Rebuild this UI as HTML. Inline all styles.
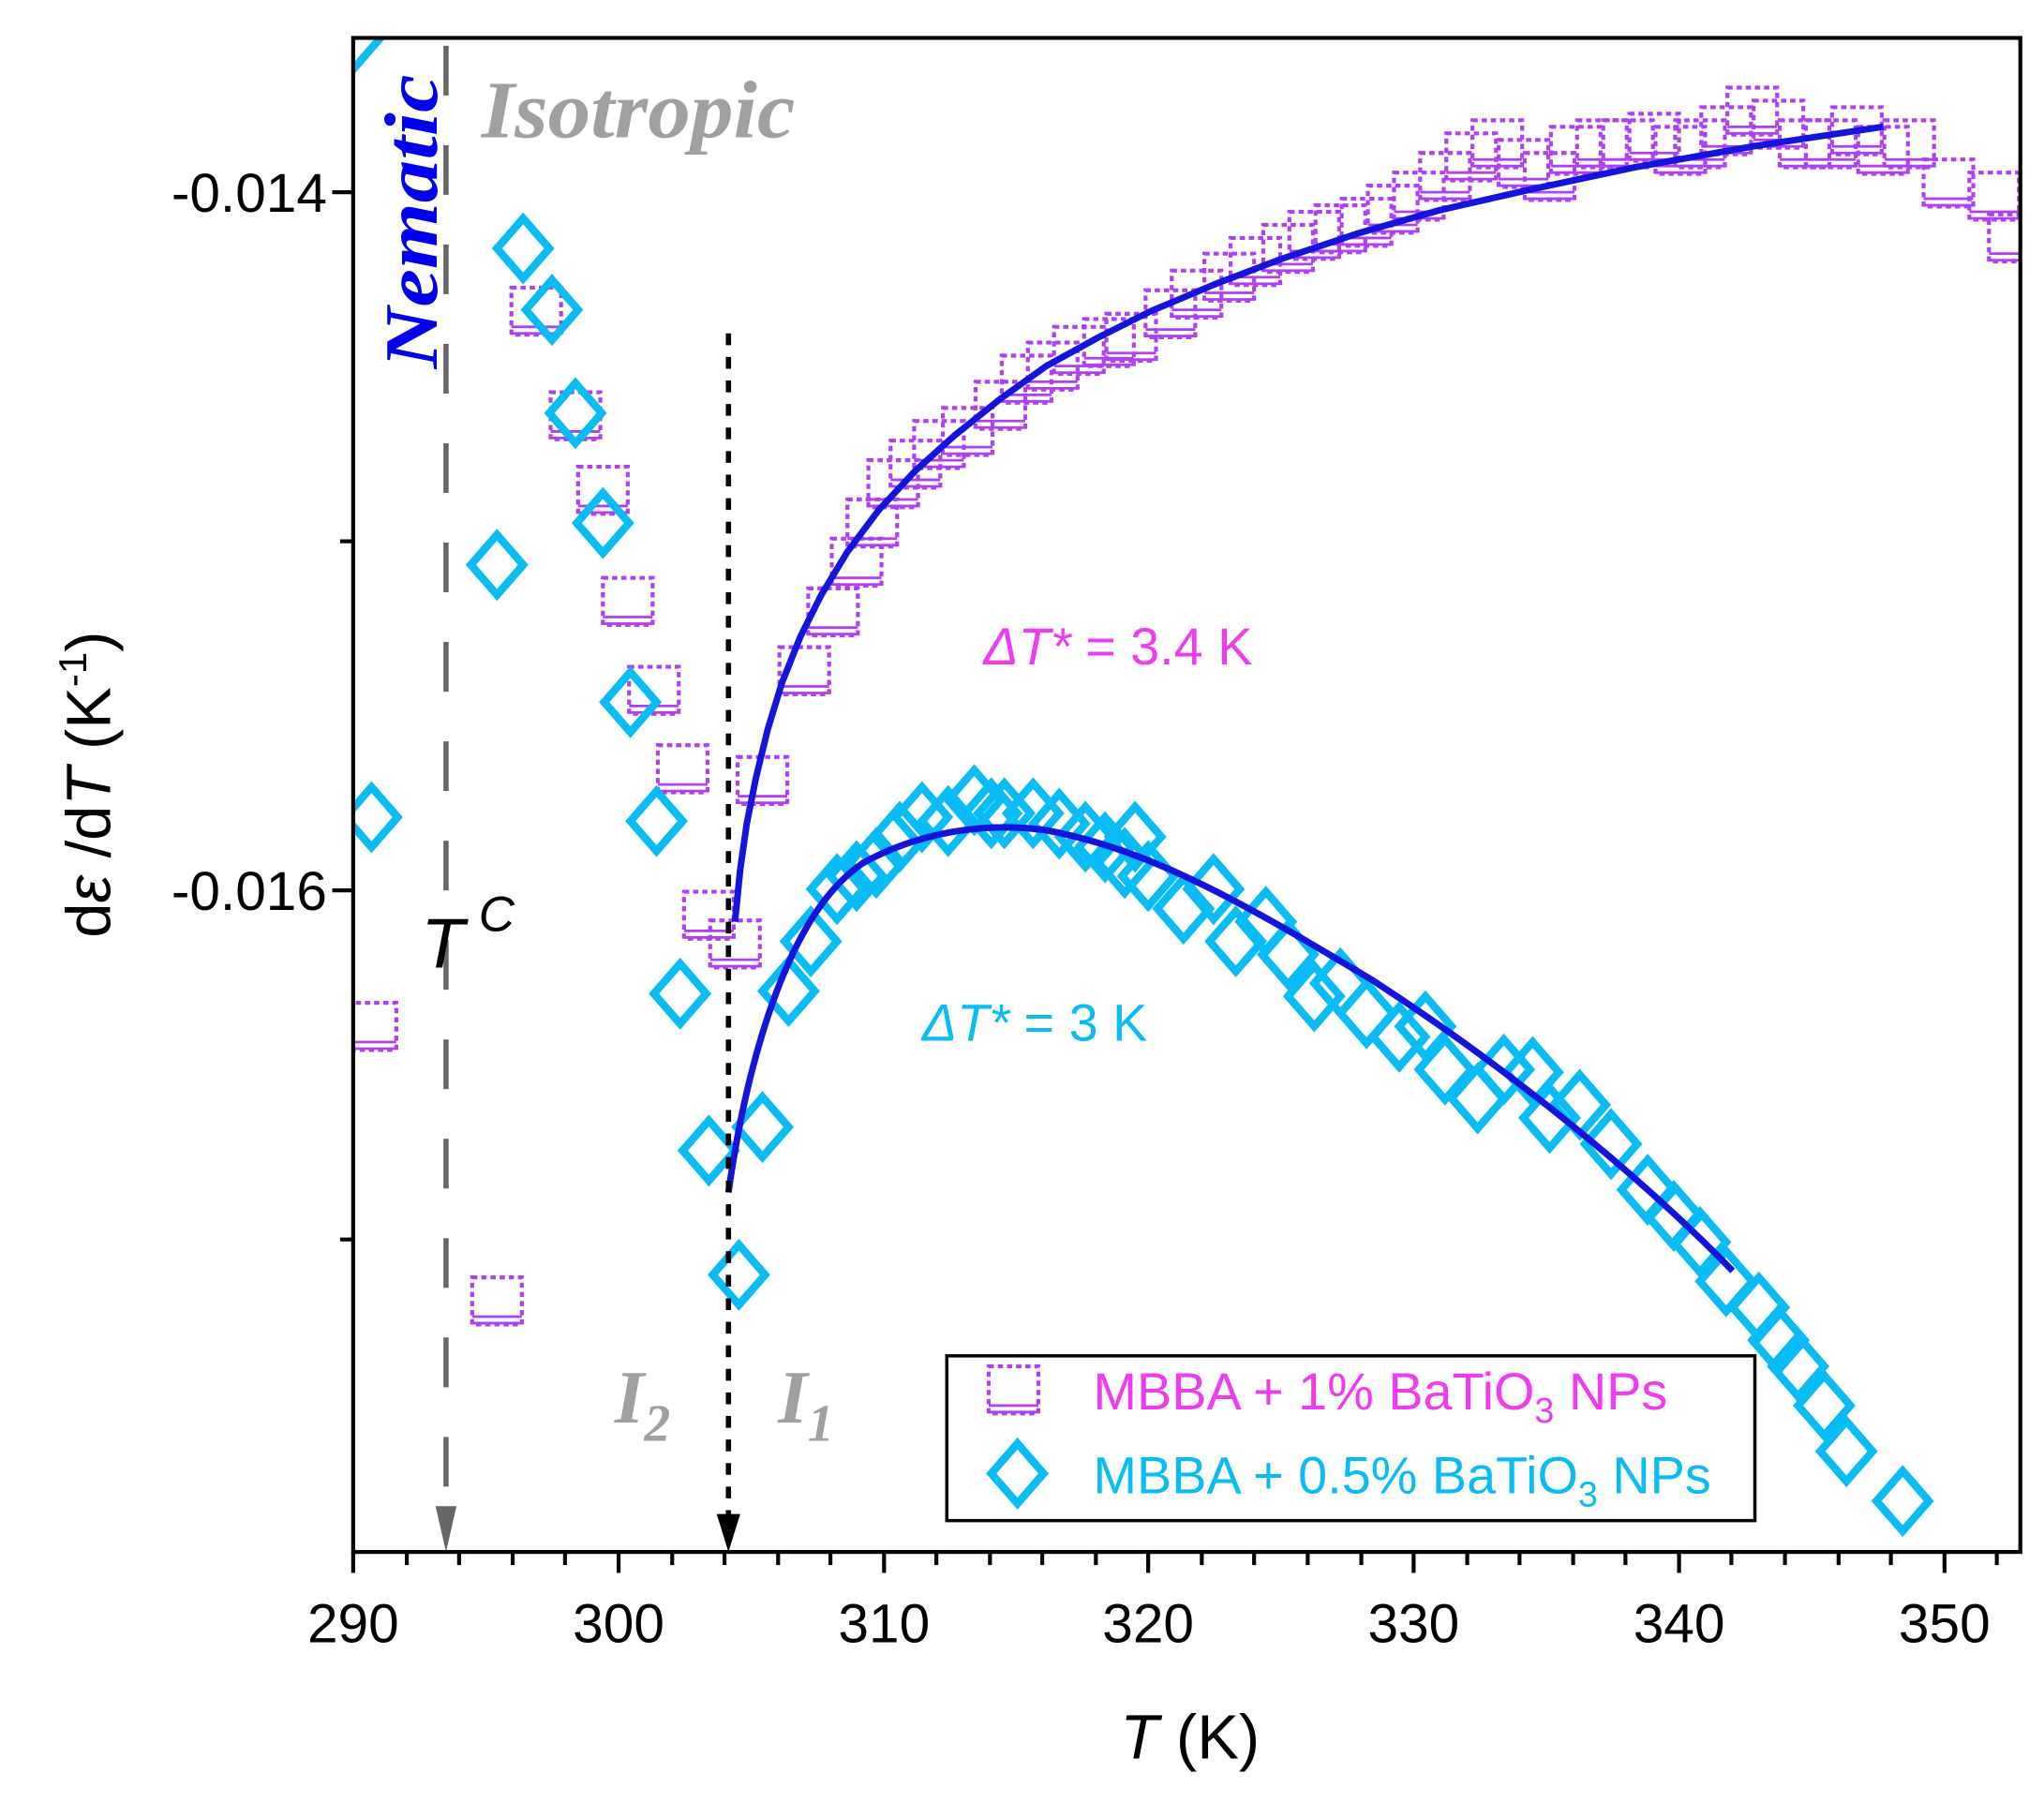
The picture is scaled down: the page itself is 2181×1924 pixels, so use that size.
<!DOCTYPE html>
<html><head><meta charset="utf-8"><style>html,body{margin:0;padding:0;background:#fff}svg{display:block}</style></head><body>
<svg width="2181" height="1924" viewBox="0 0 1563 1379" xmlns="http://www.w3.org/2000/svg" font-family="Liberation Sans, Arial, sans-serif">
<defs>
<g id="sq"><rect x="-19" y="-18" width="38" height="36" fill="none" stroke="#b040f5" stroke-width="3" stroke-dasharray="4 3"/><line x1="-19" y1="12" x2="19" y2="12" stroke="#b040f5" stroke-width="2"/><line x1="-19" y1="17" x2="19" y2="17" stroke="#b040f5" stroke-width="2"/></g>
<path id="dm" d="M0,-23 L20,0 L0,23 L-20,0 Z" fill="none" stroke="#0abcf5" stroke-width="6" stroke-linejoin="miter"/>
<clipPath id="pc"><rect x="270" y="29" width="1275" height="1158"/></clipPath>
</defs>
<rect width="1563" height="1379" fill="#fff"/>
<g clip-path="url(#pc)">
<g>
<use href="#sq" x="284" y="785"/><use href="#sq" x="380" y="995"/><use href="#sq" x="410" y="238"/><use href="#sq" x="440" y="318"/><use href="#sq" x="461" y="375"/><use href="#sq" x="480" y="460"/><use href="#sq" x="500" y="528"/><use href="#sq" x="522" y="588"/><use href="#sq" x="542" y="700"/><use href="#sq" x="562" y="722"/><use href="#sq" x="583" y="597"/><use href="#sq" x="615" y="513"/><use href="#sq" x="637" y="468"/><use href="#sq" x="655" y="430"/><use href="#sq" x="667" y="400"/><use href="#sq" x="683" y="370"/><use href="#sq" x="700" y="355"/><use href="#sq" x="718" y="340"/><use href="#sq" x="740" y="330"/><use href="#sq" x="765" y="310"/><use href="#sq" x="785" y="290"/><use href="#sq" x="805" y="280"/><use href="#sq" x="825" y="268"/><use href="#sq" x="848" y="262"/><use href="#sq" x="865" y="258"/><use href="#sq" x="895" y="240"/><use href="#sq" x="915" y="225"/><use href="#sq" x="940" y="212"/><use href="#sq" x="960" y="200"/><use href="#sq" x="985" y="190"/><use href="#sq" x="1005" y="180"/><use href="#sq" x="1025" y="175"/><use href="#sq" x="1045" y="170"/><use href="#sq" x="1065" y="160"/><use href="#sq" x="1085" y="150"/><use href="#sq" x="1105" y="135"/><use href="#sq" x="1125" y="120"/><use href="#sq" x="1145" y="110"/><use href="#sq" x="1165" y="125"/><use href="#sq" x="1185" y="135"/><use href="#sq" x="1205" y="115"/><use href="#sq" x="1225" y="110"/><use href="#sq" x="1245" y="110"/><use href="#sq" x="1265" y="105"/><use href="#sq" x="1285" y="115"/><use href="#sq" x="1300" y="110"/><use href="#sq" x="1320" y="100"/><use href="#sq" x="1340" y="85"/><use href="#sq" x="1360" y="95"/><use href="#sq" x="1380" y="110"/><use href="#sq" x="1400" y="110"/><use href="#sq" x="1420" y="100"/><use href="#sq" x="1440" y="115"/><use href="#sq" x="1460" y="110"/><use href="#sq" x="1490" y="140"/><use href="#sq" x="1525" y="150"/><use href="#sq" x="1540" y="182"/>
</g>
<g>
<use href="#dm" x="270" y="30"/><use href="#dm" x="284" y="625"/><use href="#dm" x="380" y="432"/><use href="#dm" x="400" y="190"/><use href="#dm" x="422" y="237"/><use href="#dm" x="440" y="316"/><use href="#dm" x="461" y="400"/><use href="#dm" x="482" y="537"/><use href="#dm" x="502" y="628"/><use href="#dm" x="520" y="760"/><use href="#dm" x="542" y="880"/><use href="#dm" x="565" y="975"/><use href="#dm" x="583" y="862"/><use href="#dm" x="603" y="758"/><use href="#dm" x="620" y="720"/><use href="#dm" x="640" y="680"/><use href="#dm" x="655" y="670"/><use href="#dm" x="670" y="660"/><use href="#dm" x="688" y="640"/><use href="#dm" x="705" y="625"/><use href="#dm" x="725" y="628"/><use href="#dm" x="745" y="612"/><use href="#dm" x="758" y="622"/><use href="#dm" x="768" y="622"/><use href="#dm" x="790" y="622"/><use href="#dm" x="810" y="630"/><use href="#dm" x="830" y="640"/><use href="#dm" x="845" y="648"/><use href="#dm" x="860" y="660"/><use href="#dm" x="868" y="640"/><use href="#dm" x="878" y="670"/><use href="#dm" x="905" y="695"/><use href="#dm" x="928" y="680"/><use href="#dm" x="945" y="720"/><use href="#dm" x="968" y="705"/><use href="#dm" x="985" y="730"/><use href="#dm" x="1005" y="762"/><use href="#dm" x="1025" y="752"/><use href="#dm" x="1045" y="775"/><use href="#dm" x="1070" y="793"/><use href="#dm" x="1090" y="785"/><use href="#dm" x="1105" y="818"/><use href="#dm" x="1130" y="840"/><use href="#dm" x="1150" y="818"/><use href="#dm" x="1172" y="820"/><use href="#dm" x="1185" y="855"/><use href="#dm" x="1208" y="845"/><use href="#dm" x="1232" y="875"/><use href="#dm" x="1260" y="910"/><use href="#dm" x="1280" y="930"/><use href="#dm" x="1300" y="950"/><use href="#dm" x="1320" y="980"/><use href="#dm" x="1345" y="1000"/><use href="#dm" x="1360" y="1025"/><use href="#dm" x="1375" y="1045"/><use href="#dm" x="1395" y="1075"/><use href="#dm" x="1412" y="1110"/><use href="#dm" x="1455" y="1148"/>
</g>
<polyline points="562,705 566,665 571,630 578,595 587,558 598,522 612,487 628,455 648,422 672,390 700,360 730,333 765,305 800,280 840,258 880,238 930,217 980,198 1040,178 1100,161 1170,145 1250,128 1340,112 1440,97" fill="none" stroke="#1414dc" stroke-width="5" stroke-linejoin="round"/>
<path d="M557,912 C570,820 600,700 660,660 C700,638 750,628 800,635 C880,650 950,690 1050,750 C1150,815 1250,895 1325,972" fill="none" stroke="#1414dc" stroke-width="5"/>
</g>
<line x1="341" y1="35" x2="341" y2="1165" stroke="#666" stroke-width="4" stroke-dasharray="38 38"/>
<path d="M333,1152 L349,1152 L341,1187 Z" fill="#666"/>
<line x1="557" y1="255" x2="557" y2="1165" stroke="#000" stroke-width="4" stroke-dasharray="9 9"/>
<path d="M548,1158 L566,1158 L557,1187 Z" fill="#000"/>
<rect x="270" y="29" width="1275" height="1158" fill="none" stroke="#000" stroke-width="3"/>
<g stroke="#000" stroke-width="3">
<line x1="270" y1="1187" x2="270" y2="1203"/><line x1="473" y1="1187" x2="473" y2="1203"/><line x1="676" y1="1187" x2="676" y2="1203"/><line x1="878" y1="1187" x2="878" y2="1203"/><line x1="1081" y1="1187" x2="1081" y2="1203"/><line x1="1284" y1="1187" x2="1284" y2="1203"/><line x1="1487" y1="1187" x2="1487" y2="1203"/>
<line x1="311" y1="1187" x2="311" y2="1197"/><line x1="351" y1="1187" x2="351" y2="1197"/><line x1="392" y1="1187" x2="392" y2="1197"/><line x1="432" y1="1187" x2="432" y2="1197"/>
<line x1="514" y1="1187" x2="514" y2="1197"/><line x1="554" y1="1187" x2="554" y2="1197"/><line x1="595" y1="1187" x2="595" y2="1197"/><line x1="635" y1="1187" x2="635" y2="1197"/>
<line x1="716" y1="1187" x2="716" y2="1197"/><line x1="757" y1="1187" x2="757" y2="1197"/><line x1="797" y1="1187" x2="797" y2="1197"/><line x1="838" y1="1187" x2="838" y2="1197"/>
<line x1="919" y1="1187" x2="919" y2="1197"/><line x1="959" y1="1187" x2="959" y2="1197"/><line x1="1000" y1="1187" x2="1000" y2="1197"/><line x1="1041" y1="1187" x2="1041" y2="1197"/>
<line x1="1122" y1="1187" x2="1122" y2="1197"/><line x1="1162" y1="1187" x2="1162" y2="1197"/><line x1="1203" y1="1187" x2="1203" y2="1197"/><line x1="1243" y1="1187" x2="1243" y2="1197"/>
<line x1="1324" y1="1187" x2="1324" y2="1197"/><line x1="1365" y1="1187" x2="1365" y2="1197"/><line x1="1406" y1="1187" x2="1406" y2="1197"/><line x1="1446" y1="1187" x2="1446" y2="1197"/><line x1="1527" y1="1187" x2="1527" y2="1197"/>
<line x1="254" y1="147" x2="270" y2="147"/><line x1="254" y1="681" x2="270" y2="681"/><line x1="260" y1="414" x2="270" y2="414"/><line x1="260" y1="948" x2="270" y2="948"/>
</g>
<g font-size="42" fill="#000" text-anchor="middle">
<text x="270" y="1256">290</text><text x="473" y="1256">300</text><text x="676" y="1256">310</text><text x="878" y="1256">320</text><text x="1081" y="1256">330</text><text x="1284" y="1256">340</text><text x="1487" y="1256">350</text>
</g>
<g font-size="42" fill="#000" text-anchor="end">
<text x="250" y="162">-0.014</text><text x="250" y="696">-0.016</text>
</g>
<text x="910" y="1345" font-size="48" text-anchor="middle"><tspan font-style="italic">T</tspan>    (K)</text>
<text transform="translate(84,600) rotate(-90)" font-size="48" text-anchor="middle">d<tspan font-style="italic">ε</tspan> /d<tspan font-style="italic">T</tspan>   (K<tspan font-size="30" dy="-18">-1</tspan><tspan dy="18">)</tspan></text>
<text transform="translate(334,282) rotate(-90)" font-family="Liberation Serif, serif" font-weight="bold" font-style="italic" font-size="58" fill="#0000ee" textLength="225" lengthAdjust="spacingAndGlyphs">Nematic</text>
<text x="368" y="105" font-family="Liberation Serif, serif" font-weight="bold" font-style="italic" font-size="62" fill="#a0a0a0" textLength="240" lengthAdjust="spacingAndGlyphs">Isotropic</text>
<text x="322" y="740" font-size="54" font-style="italic" fill="#000">T</text><text x="366" y="712" font-size="38" font-style="italic" fill="#000">C</text>
<text x="752" y="508" font-size="40" fill="#f03cf0"><tspan font-style="italic">ΔT*</tspan> = 3.4 K</text>
<text x="705" y="796" font-size="40" fill="#0abcf5"><tspan font-style="italic">ΔT*</tspan> = 3 K</text>
<text x="470" y="1088" font-family="Liberation Serif, serif" font-weight="bold" font-style="italic" font-size="58" fill="#a0a0a0">I<tspan font-size="40" dy="14">2</tspan></text>
<text x="595" y="1088" font-family="Liberation Serif, serif" font-weight="bold" font-style="italic" font-size="58" fill="#a0a0a0">I<tspan font-size="40" dy="14">1</tspan></text>
<rect x="724" y="1037" width="618" height="126" fill="#fff" stroke="#000" stroke-width="2.5"/>
<use href="#sq" x="775" y="1063"/>
<use href="#dm" x="778" y="1127"/>
<text x="836" y="1078" font-size="40" fill="#f03cf0">MBBA + 1% BaTiO<tspan font-size="27" dy="10">3</tspan><tspan dy="-10"> NPs</tspan></text>
<text x="836" y="1142" font-size="40" fill="#0abcf5">MBBA + 0.5% BaTiO<tspan font-size="27" dy="10">3</tspan><tspan dy="-10"> NPs</tspan></text>
</svg>
</body></html>
